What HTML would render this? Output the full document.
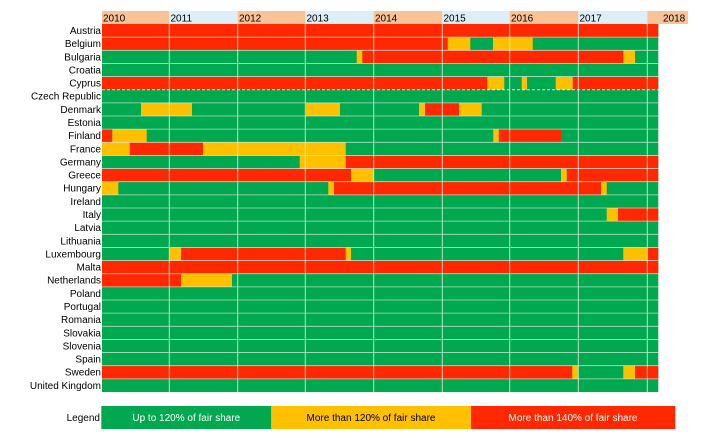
<!DOCTYPE html>
<html><head><meta charset="utf-8"><style>
html,body{margin:0;padding:0;background:#fff;width:710px;height:447px;overflow:hidden}
svg{display:block;font-family:"Liberation Sans",Arial,sans-serif}
</style></head><body>
<svg width="710" height="447" viewBox="0 0 710 447" xmlns="http://www.w3.org/2000/svg">
<!-- header -->
<rect x="102" y="11" width="67.3" height="13" fill="#F8C396"/>
<rect x="169.3" y="11" width="68.4" height="13" fill="#DDEEF6"/>
<rect x="237.7" y="11" width="67.6" height="13" fill="#F8C396"/>
<rect x="305.3" y="11" width="68.4" height="13" fill="#DDEEF6"/>
<rect x="373.7" y="11" width="68.6" height="13" fill="#F8C396"/>
<rect x="442.3" y="11" width="67.4" height="13" fill="#DDEEF6"/>
<rect x="509.7" y="11" width="68.6" height="13" fill="#F8C396"/>
<rect x="578.3" y="11" width="69" height="13" fill="#DDEEF6"/>
<rect x="647.3" y="11" width="40.7" height="13" fill="#F8C396"/>
<g font-size="10" fill="#000">
<text x="103" y="21.5">2010</text><text x="170.5" y="21.5">2011</text><text x="239" y="21.5">2012</text>
<text x="306.5" y="21.5">2013</text><text x="375" y="21.5">2014</text><text x="443.5" y="21.5">2015</text>
<text x="511" y="21.5">2016</text><text x="579.5" y="21.5">2017</text><text x="663" y="21.5">2018</text>
</g>
<!-- base green -->
<rect x="102" y="24" width="556.3" height="368" fill="#00A84F"/>
<g fill="#FF2800">
<rect x="102" y="24" width="556.3" height="13.14"/>
<rect x="102" y="37.14" width="345.7" height="13.14"/>
<rect x="362.3" y="50.29" width="261" height="13.14"/>
<rect x="102" y="76.57" width="385.3" height="13.14"/>
<rect x="572.7" y="76.57" width="85.6" height="13.14"/>
<rect x="425" y="102.86" width="34" height="13.14"/>
<rect x="102" y="129.14" width="10.3" height="13.14"/>
<rect x="498.7" y="129.14" width="62.3" height="13.14"/>
<rect x="129.7" y="142.29" width="73.3" height="13.14"/>
<rect x="345.7" y="155.43" width="312.6" height="13.14"/>
<rect x="102" y="168.57" width="249" height="13.14"/>
<rect x="566.7" y="168.57" width="91.6" height="13.14"/>
<rect x="334" y="181.71" width="267" height="13.14"/>
<rect x="618" y="208" width="40.3" height="13.14"/>
<rect x="181" y="247.43" width="164.7" height="13.14"/>
<rect x="647.3" y="247.43" width="11" height="13.14"/>
<rect x="102" y="260.57" width="556.3" height="13.14"/>
<rect x="102" y="273.71" width="79" height="13.14"/>
<rect x="102" y="365.71" width="470.3" height="13.14"/>
<rect x="635" y="365.71" width="23.3" height="13.14"/>
</g>
<g fill="#FFC000">
<rect x="447.7" y="37.14" width="22.6" height="13.14"/>
<rect x="493" y="37.14" width="39.7" height="13.14"/>
<rect x="356.7" y="50.29" width="5.6" height="13.14"/>
<rect x="623.3" y="50.29" width="11.7" height="13.14"/>
<rect x="487.3" y="76.57" width="17" height="13.14"/>
<rect x="521.7" y="76.57" width="5.3" height="13.14"/>
<rect x="555.7" y="76.57" width="17" height="13.14"/>
<rect x="141" y="102.86" width="51" height="13.14"/>
<rect x="306" y="102.86" width="34" height="13.14"/>
<rect x="419" y="102.86" width="6" height="13.14"/>
<rect x="459" y="102.86" width="22.7" height="13.14"/>
<rect x="112.3" y="129.14" width="34.4" height="13.14"/>
<rect x="493.3" y="129.14" width="5.4" height="13.14"/>
<rect x="102" y="142.29" width="27.7" height="13.14"/>
<rect x="203" y="142.29" width="142.7" height="13.14"/>
<rect x="299.7" y="155.43" width="46" height="13.14"/>
<rect x="351" y="168.57" width="22.7" height="13.14"/>
<rect x="561" y="168.57" width="5.7" height="13.14"/>
<rect x="102" y="181.71" width="16.3" height="13.14"/>
<rect x="328.3" y="181.71" width="5.7" height="13.14"/>
<rect x="601" y="181.71" width="5.7" height="13.14"/>
<rect x="606.7" y="208" width="11.3" height="13.14"/>
<rect x="169.3" y="247.43" width="11.7" height="13.14"/>
<rect x="345.7" y="247.43" width="5.3" height="13.14"/>
<rect x="623.3" y="247.43" width="24" height="13.14"/>
<rect x="181" y="273.71" width="51" height="13.14"/>
<rect x="572.3" y="365.71" width="5.7" height="13.14"/>
<rect x="623.3" y="365.71" width="11.7" height="13.14"/>
</g>
<!-- grid -->
<g stroke="#E8F4E8" stroke-width="1" opacity="0.8">
<line x1="169.3" y1="24" x2="169.3" y2="392"/><line x1="237.7" y1="24" x2="237.7" y2="392"/>
<line x1="305.3" y1="24" x2="305.3" y2="392"/><line x1="373.7" y1="24" x2="373.7" y2="392"/>
<line x1="442.3" y1="24" x2="442.3" y2="392"/><line x1="509.7" y1="24" x2="509.7" y2="392"/>
<line x1="578.3" y1="24" x2="578.3" y2="392"/><line x1="647.3" y1="24" x2="647.3" y2="392"/>
</g>
<g stroke="#E0EEE0" stroke-width="0.8" opacity="0.8">
<line x1="102" x2="658.3" y1="37.14" y2="37.14"/><line x1="102" x2="658.3" y1="50.29" y2="50.29"/>
<line x1="102" x2="658.3" y1="63.43" y2="63.43"/><line x1="102" x2="658.3" y1="76.57" y2="76.57"/>
<line x1="102" x2="658.3" y1="102.86" y2="102.86"/>
<line x1="102" x2="658.3" y1="116" y2="116"/><line x1="102" x2="658.3" y1="129.14" y2="129.14"/>
<line x1="102" x2="658.3" y1="142.29" y2="142.29"/><line x1="102" x2="658.3" y1="155.43" y2="155.43"/>
<line x1="102" x2="658.3" y1="168.57" y2="168.57"/><line x1="102" x2="658.3" y1="181.71" y2="181.71"/>
<line x1="102" x2="658.3" y1="194.86" y2="194.86"/><line x1="102" x2="658.3" y1="208" y2="208"/>
<line x1="102" x2="658.3" y1="221.14" y2="221.14"/><line x1="102" x2="658.3" y1="234.29" y2="234.29"/>
<line x1="102" x2="658.3" y1="247.43" y2="247.43"/><line x1="102" x2="658.3" y1="260.57" y2="260.57"/>
<line x1="102" x2="658.3" y1="273.71" y2="273.71"/><line x1="102" x2="658.3" y1="286.86" y2="286.86"/>
<line x1="102" x2="658.3" y1="300" y2="300"/><line x1="102" x2="658.3" y1="313.14" y2="313.14"/>
<line x1="102" x2="658.3" y1="326.29" y2="326.29"/><line x1="102" x2="658.3" y1="339.43" y2="339.43"/>
<line x1="102" x2="658.3" y1="352.57" y2="352.57"/><line x1="102" x2="658.3" y1="365.71" y2="365.71"/>
<line x1="102" x2="658.3" y1="378.86" y2="378.86"/>
</g>
<line x1="102" x2="658.3" y1="89.71" y2="89.71" stroke="#ffffff" stroke-width="1" stroke-dasharray="3,2" opacity="0.8"/>
<!-- labels -->
<g font-size="10" fill="#000" text-anchor="end">
<text x="101" y="34">Austria</text><text x="101" y="47.1">Belgium</text><text x="101" y="60.3">Bulgaria</text>
<text x="101" y="73.4">Croatia</text><text x="101" y="86.6">Cyprus</text><text x="101" y="99.7">Czech  Republic</text>
<text x="101" y="112.9">Denmark</text><text x="101" y="126">Estonia</text><text x="101" y="139.1">Finland</text>
<text x="101" y="152.3">France</text><text x="101" y="165.4">Germany</text><text x="101" y="178.6">Greece</text>
<text x="101" y="191.7">Hungary</text><text x="101" y="204.9">Ireland</text><text x="101" y="218">Italy</text>
<text x="101" y="231.1">Latvia</text><text x="101" y="244.3">Lithuania</text><text x="101" y="257.4">Luxembourg</text>
<text x="101" y="270.6">Malta</text><text x="101" y="283.7">Netherlands</text><text x="101" y="296.9">Poland</text>
<text x="101" y="310">Portugal</text><text x="101" y="323.1">Romania</text><text x="101" y="336.3">Slovakia</text>
<text x="101" y="349.4">Slovenia</text><text x="101" y="362.6">Spain</text><text x="101" y="375.7">Sweden</text>
<text x="101" y="388.9">United Kingdom</text>
</g>
<!-- legend -->
<rect x="101.3" y="406" width="170" height="23" fill="#00A84F"/>
<rect x="271.3" y="406" width="199.7" height="23" fill="#FFC000"/>
<rect x="471" y="406" width="204.3" height="23" fill="#FF2800"/>
<g font-size="10">
<text x="100" y="421" text-anchor="end" fill="#000">Legend</text>
<text x="186.3" y="421" text-anchor="middle" fill="#fff">Up to 120% of fair share</text>
<text x="371" y="421" text-anchor="middle" fill="#000">More than  120% of fair share</text>
<text x="573" y="421" text-anchor="middle" fill="#fff">More than  140% of fair share</text>
</g>
</svg>
</body></html>
